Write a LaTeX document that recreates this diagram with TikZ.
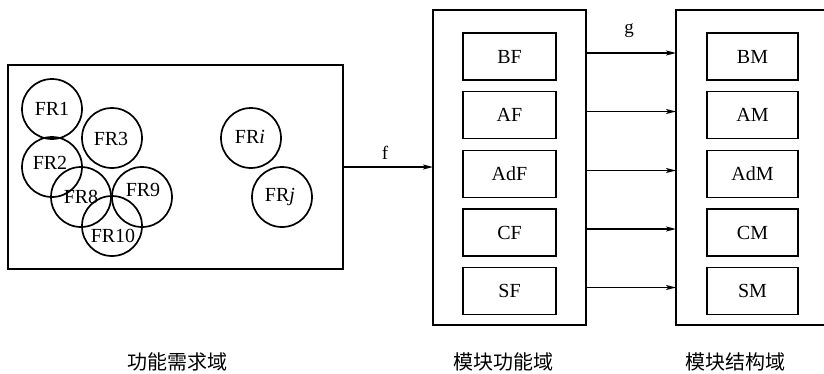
\documentclass[tikz,border=0pt]{standalone}
\usepackage{fontspec}
\setmainfont{Liberation Serif}
\newfontfamily\cjk{Noto Sans CJK SC}
\usetikzlibrary{arrows.meta}
\begin{document}
\begin{tikzpicture}[x=1pt,y=-1pt,
  every node/.style={inner sep=0pt,outer sep=0pt},
  bigbox/.style={draw,line width=1.7pt,rectangle},
  inbox/.style={draw,line width=1.7pt,rectangle,minimum height=47pt,font=\fontsize{20}{24}\selectfont},
  frc/.style={draw,line width=1.7pt,circle,minimum size=60pt},
  frt/.style={font=\fontsize{20}{24}\selectfont},
  lbl/.style={font=\fontsize{19}{22}\selectfont},
  captxt/.style={font=\cjk\fontsize{20}{24}\selectfont},
  arr/.style={line width=1.2pt,-{Stealth[length=10pt,width=5pt,inset=2.5pt]}}]
\useasboundingbox (0,0) rectangle (824,373);
% left domain
\node[bigbox,minimum width=335pt,minimum height=204pt] (left) at (175.5,167) {};
\node[frc] (c1) at (52,109) {};
\node[frc] (c3) at (112,138) {};
\node[frc] (c2) at (52,167) {};
\node[frc] (c8) at (81,197) {};
\node[frc] (c9) at (142,197) {};
\node[frc] (c10) at (112,226) {};
\node[frc] (ci) at (251,138) {};
\node[frc] (cj) at (282,197) {};
\node[frt] (t1) at (52,109) {FR1};
\node[frt] (t3) at (111,139) {FR3};
\node[frt] (t2) at (50,163) {FR2};
\node[frt] (t8) at (81,197) {FR8};
\node[frt] (t9) at (143,190) {FR9};
\node[frt] (t10) at (113,236) {FR10};
\node[frt] (ti) at (250,137) {FR\textit{i}};
\node[frt] (tj) at (280,197) {FR\textit{j}};
% middle domain
\node[bigbox,minimum width=153pt,minimum height=315pt] (mid) at (509.5,167.5) {};
\node[inbox,minimum width=93pt] (bf) at (509.5,56.5) {BF};
\node[inbox,minimum width=93pt] (af) at (509.5,115) {AF};
\node[inbox,minimum width=93pt] (adf) at (509.5,174) {AdF};
\node[inbox,minimum width=93pt] (cf) at (509.5,232.5) {CF};
\node[inbox,minimum width=93pt] (sf) at (509.5,291) {SF};
% right domain
\node[bigbox,minimum width=152pt,minimum height=315pt] (rt) at (752,167.5) {};
\node[inbox,minimum width=91pt] (bm) at (752.5,56.5) {BM};
\node[inbox,minimum width=91pt] (am) at (752.5,115) {AM};
\node[inbox,minimum width=91pt] (adm) at (752.5,174) {AdM};
\node[inbox,minimum width=91pt] (cm) at (752.5,232.5) {CM};
\node[inbox,minimum width=91pt] (sm) at (752.5,291) {SM};
% arrows
\draw[arr] (left.east) -- (left.east -| mid.west);
\node[lbl] (f) at (385,153) {f};
\foreach \a/\b in {bf/bm,af/am,adf/adm,cf/cm,sf/sm}
  \draw[arr] ([yshift=3.5pt]\a.east -| mid.east) -- ([yshift=3.5pt]\b.west -| rt.west);
\node[lbl] (g) at (629,31) {g};
% captions
\node[captxt] (capl) at (177,362) {功能需求域};
\node[captxt] (capm) at (503,362) {模块功能域};
\node[captxt] (capr) at (735,362) {模块结构域};
\end{tikzpicture}
\end{document}
